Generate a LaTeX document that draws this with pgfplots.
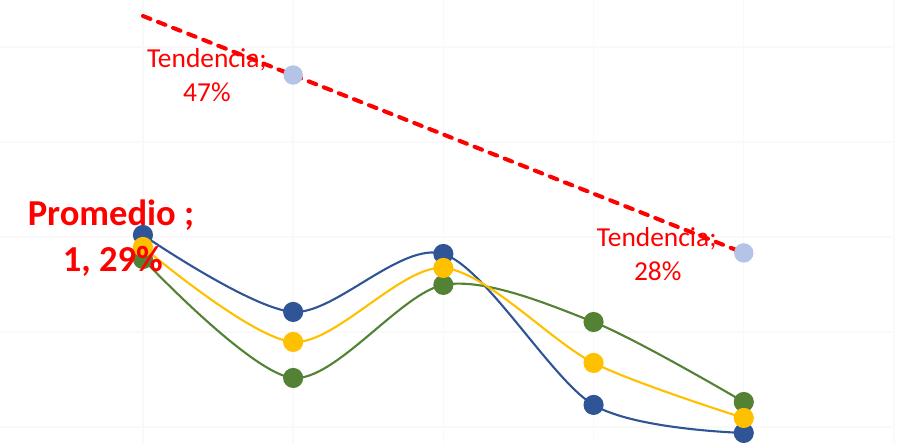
\documentclass[border=0pt]{standalone}
\usepackage{pgfplots}
\pgfplotsset{compat=1.18}
\usepackage{fontspec}
\setmainfont{Carlito}
\definecolor{sblue}{HTML}{2F5597}
\definecolor{syellow}{HTML}{FFC000}
\definecolor{sgreen}{HTML}{548235}
\definecolor{tblue}{HTML}{B4C4E6}
\definecolor{gridc}{HTML}{F9F9F9}
\begin{document}
\begin{tikzpicture}
\begin{axis}[
  at={(0,0)}, anchor=south west,
  scale only axis, width=8.94cm, height=4.43cm,
  xmin=-0.9517, xmax=5, ymin=-0.1684, ymax=4.4947,
  xtick={0,1,2,3,4,5}, ytick={0,1,2,3,4},
  xticklabels={}, yticklabels={},
  major tick length=0pt,
  grid=major, major grid style={draw=gridc, line width=0.4pt},
  axis line style={draw=none},
  clip=false,
]
% trend markers
\addplot[only marks, mark=*, mark size=0.09cm, mark options={fill=tblue, draw=tblue}]
  coordinates {(1,3.705) (4,1.832)};
% trend line
\addplot[red, line width=1.15pt, line cap=round, dash pattern=on 0.08cm off 0.082cm]
  coordinates {(0,4.326) (4,1.832)};
% series
\addplot[sblue, line width=0.6pt, smooth, mark=*, mark size=0.09cm, mark options={fill=sblue, draw=sblue}]
  coordinates {(0,2.021) (1,1.211) (2,1.821) (3,0.232) (4,-0.063)};
\addplot[sgreen, line width=0.6pt, smooth, mark=*, mark size=0.09cm, mark options={fill=sgreen, draw=sgreen}]
  coordinates {(0,1.768) (1,0.516) (2,1.495) (3,1.105) (4,0.263)};
\addplot[syellow, line width=0.6pt, smooth, mark=*, mark size=0.09cm, mark options={fill=syellow, draw=syellow}]
  coordinates {(0,1.895) (1,0.895) (2,1.674) (3,0.674) (4,0.095)};
% label positions
\coordinate (t1a) at (axis cs:0.426,3.779);
\coordinate (t1b) at (axis cs:0.426,3.421);
\coordinate (t2a) at (axis cs:3.421,1.895);
\coordinate (t2b) at (axis cs:3.427,1.547);
\coordinate (pa) at (axis cs:-0.213,2.126);
\coordinate (pb) at (axis cs:-0.200,1.632);
\end{axis}
\node[anchor=base, inner sep=0, text=red, font=\fontsize{7.8}{9.5}\selectfont] at (t1a) {Tendencia;};
\node[anchor=base, inner sep=0, text=red, font=\fontsize{7.8}{9.5}\selectfont] at (t1b) {47\%};
\node[anchor=base, inner sep=0, text=red, font=\fontsize{7.8}{9.5}\selectfont] at (t2a) {Tendencia;};
\node[anchor=base, inner sep=0, text=red, font=\fontsize{7.8}{9.5}\selectfont] at (t2b) {28\%};
\node[anchor=base, inner sep=0, text=red, font=\fontsize{10.4}{12.5}\selectfont\bfseries] at (pa) {Promedio ;};
\node[anchor=base, inner sep=0, text=red, font=\fontsize{10.4}{12.5}\selectfont\bfseries] at (pb) {1, 29\%};
\pgfresetboundingbox
\path (0,0) rectangle (9.02cm,4.43cm);
\end{tikzpicture}
\end{document}
